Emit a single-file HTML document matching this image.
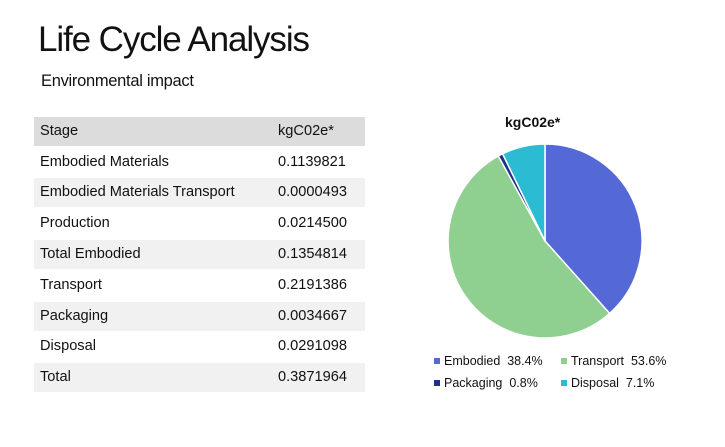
<!DOCTYPE html>
<html><head><style>
body{margin:0;width:725px;height:447px;background:#fff;font-family:"Liberation Sans",sans-serif;color:#111;position:relative;overflow:hidden}
.t{position:absolute;left:38px;top:20px;font-size:35px;letter-spacing:-1.1px;white-space:nowrap}
.s{position:absolute;left:41px;top:72px;font-size:16.5px;letter-spacing:-0.3px}
.r{position:absolute;left:34px;width:331px;height:29px;font-size:14.6px}
.r div{position:absolute;top:0;height:29px;line-height:29px}
.a{left:0;width:236px;padding-left:6px}
.b{left:238px;width:87px;padding-left:6px}
.g div{background:#f1f1f1}
.h div{background:#dcdcdc}
.leg{position:absolute;font-size:12.5px;white-space:nowrap}
.sq{display:inline-block;width:6px;height:6px;margin-right:4px;vertical-align:1px}
</style></head><body>
<div class="t">Life Cycle Analysis</div>
<div class="s">Environmental impact</div>
<div class="r h" style="top:117px"><div class="a">Stage</div><div class="b">kgC02e*</div></div>
<div class="r" style="top:148px"><div class="a">Embodied Materials</div><div class="b">0.1139821</div></div>
<div class="r g" style="top:178px"><div class="a">Embodied Materials Transport</div><div class="b">0.0000493</div></div>
<div class="r" style="top:209px"><div class="a">Production</div><div class="b">0.0214500</div></div>
<div class="r g" style="top:240px"><div class="a">Total Embodied</div><div class="b">0.1354814</div></div>
<div class="r" style="top:271px"><div class="a">Transport</div><div class="b">0.2191386</div></div>
<div class="r g" style="top:302px"><div class="a">Packaging</div><div class="b">0.0034667</div></div>
<div class="r" style="top:332px"><div class="a">Disposal</div><div class="b">0.0291098</div></div>
<div class="r g" style="top:363px"><div class="a">Total</div><div class="b">0.3871964</div></div>
<div style="position:absolute;left:505px;top:114px;font-size:14px;font-weight:bold">kgC02e*</div>
<svg style="position:absolute;left:0;top:0" width="725" height="447">
<g stroke="#fff" stroke-width="1.5">
<path d="M545,241 L545,144 A97,97 0 0 1 609.6,313.4 Z" fill="#5468d6"/>
<path d="M545,241 L609.6,313.4 A97,97 0 1 1 498.3,156 Z" fill="#8fcf8f"/>
<path d="M545,241 L498.3,156 A97,97 0 0 1 502.6,153.8 Z" fill="#1f2e8a"/>
<path d="M545,241 L502.6,153.8 A97,97 0 0 1 545,144 Z" fill="#2bbcd4"/>
</g></svg>
<div class="leg" style="left:434px;top:354px"><span class="sq" style="background:#5468d6"></span>Embodied&nbsp; 38.4%</div>
<div class="leg" style="left:561px;top:354px"><span class="sq" style="background:#8fcf8f"></span>Transport&nbsp; 53.6%</div>
<div class="leg" style="left:434px;top:376px"><span class="sq" style="background:#1f2e8a"></span>Packaging&nbsp; 0.8%</div>
<div class="leg" style="left:561px;top:376px"><span class="sq" style="background:#2bbcd4"></span>Disposal&nbsp; 7.1%</div>
</body></html>
